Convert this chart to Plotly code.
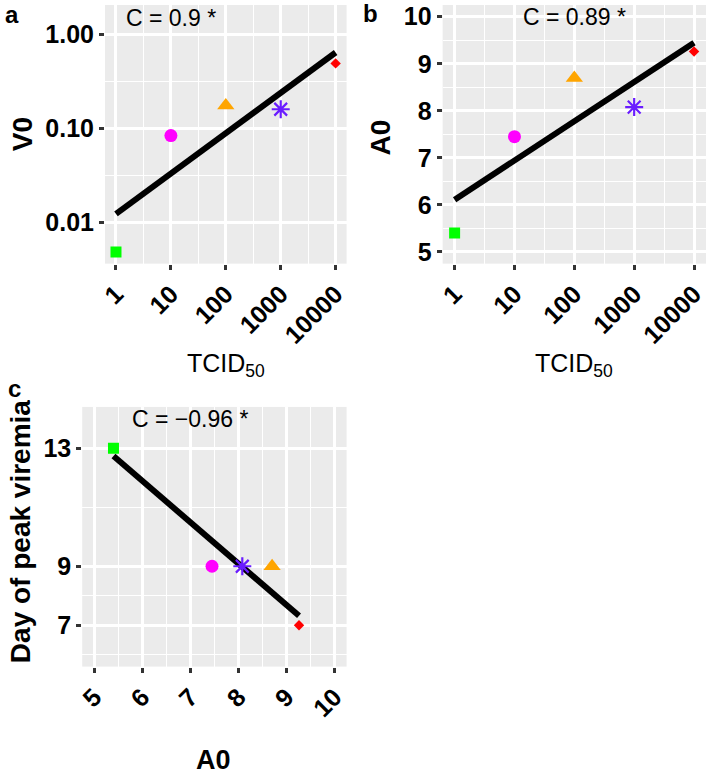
import numpy as np
import plotly.graph_objects as go

# ---------------- data ----------------
tcid50 = [1, 10, 100, 1000, 10000]
v0 = [0.0049, 0.084, 0.175, 0.16, 0.49]
a0 = [5.40, 7.45, 8.70, 8.08, 9.26]
peak_day = [13, 9, 9, 9, 7]
symbols = ["square", "circle", "triangle-up", "asterisk-open", "diamond"]
colors = ["#00FF00", "#FF00FF", "#FFA500", "#6A1CFF", "#FF0000"]
sizes = [11, 13, 15, 15, 8]

tcid_ticks = [1, 10, 100, 1000, 10000]
tcid_labels = ["1", "10", "100", "1000", "10000"]
v0_ticks = [0.01, 0.1, 1.0]
v0_labels = ["0.01", "0.10", "1.00"]
a0_ticks = [5, 6, 7, 8, 9, 10]
day_ticks = [7, 9, 13]

corr_labels = ["C = 0.9 *", "C = 0.89 *", "C = \u22120.96 *"]

W, H = 708, 779
FONT = "Liberation Sans, Arial, sans-serif"
BG = "#EBEBEB"

fig = go.Figure()

def add_points(xvals, yvals, xa, ya):
    for i in range(len(xvals)):
        lw = 2.2 if "asterisk" in symbols[i] else 0
        fig.add_trace(go.Scatter(
            x=[xvals[i]], y=[yvals[i]], mode="markers", xaxis=xa, yaxis=ya,
            marker=dict(symbol=symbols[i], color=colors[i], size=sizes[i],
                        line=dict(color=colors[i], width=lw)),
            showlegend=False, hoverinfo="skip"))

def add_fit(xvals, yvals, xa, ya, logx=False, logy=False):
    xs = np.log10(xvals) if logx else np.array(xvals, float)
    ys = np.log10(yvals) if logy else np.array(yvals, float)
    b, a = np.polyfit(xs, ys, 1)
    xe = np.array([xs.min(), xs.max()])
    ye = a + b * xe
    xe_d = 10 ** xe if logx else xe
    ye_d = 10 ** ye if logy else ye
    fig.add_trace(go.Scatter(x=xe_d, y=ye_d, mode="lines", xaxis=xa, yaxis=ya,
                             line=dict(color="black", width=6),
                             showlegend=False, hoverinfo="skip"))

# panel a
add_fit(tcid50, v0, "x", "y", logx=True, logy=True)
add_points(tcid50, v0, "x", "y")
# panel b
add_fit(tcid50, a0, "x2", "y2", logx=True)
add_points(tcid50, a0, "x2", "y2")
# panel c
add_fit(a0, peak_day, "x3", "y3")
add_points(a0, peak_day, "x3", "y3")

tickfont = dict(family=FONT, size=25, color="black", weight="bold")
common = dict(showgrid=True, gridcolor="white", gridwidth=2.5, zeroline=False,
              showline=False, ticks="outside", ticklen=5, tickwidth=2.5,
              tickcolor="#333333", tickfont=tickfont)

def px_dom_x(x0, x1):
    return [x0 / W, x1 / W]

def px_dom_y(y0, y1):
    return [1 - y1 / H, 1 - y0 / H]

log_minor_x = dict(tickmode="array", tickvals=[10 ** 0.5, 10 ** 1.5, 10 ** 2.5, 10 ** 3.5],
                   showgrid=True, gridcolor="white", gridwidth=1.2, ticks="")

fig.update_layout(
    width=W, height=H, margin=dict(l=0, r=0, t=0, b=0),
    paper_bgcolor="white", plot_bgcolor=BG,
    xaxis=dict(domain=px_dom_x(100, 344), anchor="y", type="log", range=[-0.2, 4.2],
               tickmode="array", tickvals=tcid_ticks, ticktext=tcid_labels, tickangle=-45,
               minor=log_minor_x, **common),
    yaxis=dict(domain=px_dom_y(3, 263), anchor="x", type="log", range=[-2.434, 0.31],
               tickmode="array", tickvals=v0_ticks, ticktext=v0_labels,
               minor=dict(tickmode="array", tickvals=[10 ** -1.5, 10 ** -0.5],
                          showgrid=True, gridcolor="white", gridwidth=1.2, ticks=""),
               **common),
    xaxis2=dict(domain=px_dom_x(441, 707), anchor="y2", type="log", range=[-0.2, 4.2],
                tickmode="array", tickvals=tcid_ticks, ticktext=tcid_labels, tickangle=-45,
                minor=log_minor_x, **common),
    yaxis2=dict(domain=px_dom_y(3, 263), anchor="x2", range=[4.75, 10.25],
                tickmode="array", tickvals=a0_ticks,
                minor=dict(tickmode="array", tickvals=[5.5, 6.5, 7.5, 8.5, 9.5],
                           showgrid=True, gridcolor="white", gridwidth=1.2, ticks=""),
                **common),
    xaxis3=dict(domain=px_dom_x(77, 344), anchor="y3", range=[4.75, 10.25],
                tickmode="array", tickvals=a0_ticks, tickangle=-45,
                minor=dict(tickmode="array", tickvals=[5.5, 6.5, 7.5, 8.5, 9.5],
                           showgrid=True, gridcolor="white", gridwidth=1.2, ticks=""),
                **common),
    yaxis3=dict(domain=px_dom_y(407, 668), anchor="x3", range=[5.6, 14.4],
                tickmode="array", tickvals=day_ticks,
                minor=dict(tickmode="array", tickvals=[6, 8, 11],
                           showgrid=True, gridcolor="white", gridwidth=1.2, ticks=""),
                **common),
)

ann = []
# correlation labels (data coords; log axes use log10 values)
cfont = dict(family=FONT, size=23, color="black")
ann.append(dict(x=1, y=np.log10(1.5), xref="x", yref="y", text=corr_labels[0],
                showarrow=False, font=cfont, xanchor="center", yanchor="middle"))
ann.append(dict(x=2, y=10, xref="x2", yref="y2", text=corr_labels[1],
                showarrow=False, font=cfont, xanchor="center", yanchor="middle"))
ann.append(dict(x=7, y=14, xref="x3", yref="y3", text=corr_labels[2],
                showarrow=False, font=cfont, xanchor="center", yanchor="middle"))

def pann(text, x, y, size, bold=True, angle=0, xanchor="center", yanchor="middle"):
    f = dict(family=FONT, size=size, color="black")
    if bold:
        f["weight"] = "bold"
    ann.append(dict(x=x / W, y=1 - y / H, xref="paper", yref="paper", text=text,
                    showarrow=False, font=f, textangle=angle,
                    xanchor=xanchor, yanchor=yanchor))

# axis titles
pann("V0", 16, 133, 28, angle=-90)
pann("A0", 378, 136, 28, angle=-90)
pann("Day of peak viremia", 14, 532, 28, angle=-90)
pann("TCID<sub>50</sub>", 222, 365, 25, bold=False)
pann("TCID<sub>50</sub>", 574, 365, 25, bold=False)
pann("A0", 210, 762, 27)
# panel letters
pann("a", 6, 13, 24)
pann("b", 368, 12, 24)
pann("c", 9, 388, 24)

fig.update_layout(annotations=ann)
fig.write_html("out.html")
